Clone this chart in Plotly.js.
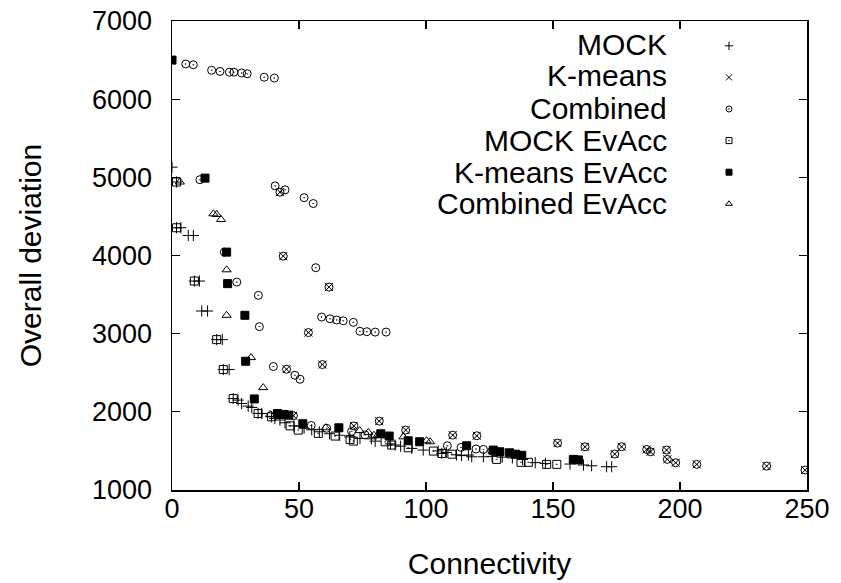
<!DOCTYPE html>
<html>
<head>
<meta charset="utf-8">
<script src="https://cdn.plot.ly/plotly-3.0.1.min.js"></script>
<style>html,body{margin:0;padding:0;background:#fff;}#chart{width:841px;height:583px;}</style>
</head>
<body>
<div id="chart"></div>
<script>
// ---- Data ----
const seriesNames = ["MOCK", "K-means", "Combined", "MOCK EvAcc", "K-means EvAcc", "Combined EvAcc"];

const mockX = [0, 1.8, 1.8, 3.5, 6.4, 8.4, 8.8, 10.8, 11.7, 14, 17.6, 19.8, 20.2, 22.5, 24.1, 26, 27.4, 30, 31.4, 33.9, 35.3, 39.2, 40.5, 42.5, 44.5, 48, 52, 55, 58, 62, 66, 70, 74, 78.5, 80, 86, 87.8, 90, 94.4, 98.9, 104.8, 106.2, 108, 112, 114, 116.7, 118, 122.6, 126, 130, 134, 138, 143, 147, 156.7, 162, 165.2, 171.1, 173.1];
const mockY = [5130, 4940, 4355, 4355, 4256, 4256, 3673, 3673, 3290, 3290, 2924, 2924, 2541, 2541, 2170, 2150, 2107, 2073, 2056, 1979, 1979, 1937, 1915, 1895, 1860, 1820, 1790, 1770, 1745, 1720, 1700, 1680, 1660, 1655, 1625, 1590, 1575, 1560, 1532, 1511, 1500, 1468, 1480, 1450, 1440, 1447, 1425, 1425, 1430, 1420, 1410, 1390, 1350, 1340, 1332, 1320, 1310, 1298, 1298];

const kmeansX = [42.5, 43.8, 45.1, 47.8, 53.7, 59.2, 61.8, 71.6, 81.6, 92, 110.5, 120, 151.8, 162.6, 174.3, 177, 186.9, 188.4, 194.7, 195, 198.3, 206.6, 234.1, 249.2];
const kmeansY = [4810, 3992, 2545, 1950, 3014, 2605, 3596, 1820, 1881, 1766, 1702, 1694, 1600, 1553, 1460, 1553, 1519, 1489, 1511, 1392, 1349, 1328, 1306, 1255];

const combinedX = [5.4, 8.4, 15.6, 18.9, 22.6, 24.4, 27.4, 29.6, 36.3, 40.3,
  11, 40.6, 42.5, 44.5, 52, 55.6, 20.6, 43.8, 25.5, 56.6, 61.8, 34, 34.4,
  58.9, 62.2, 64.8, 67.4, 71.4, 74, 76.7, 80, 84.3, 53.7, 39.9, 45.1, 48.4, 50.4, 59.2,
  47.8, 54.8, 60.9, 70.7, 71.6, 76, 81.6, 92, 108.4, 110.5, 113.8, 119.7, 120, 122.6, 125.9,
  151.8, 162.6, 174.3, 177, 186.9, 188.4, 194.7, 195, 198.3, 206.6, 234.1, 249.2];
const combinedY = [6450, 6440, 6370, 6355, 6345, 6345, 6335, 6325, 6280, 6270,
  4970, 4891, 4810, 4840, 4740, 4665, 4043, 3992, 3660, 3844, 3596, 3490, 3090,
  3213, 3190, 3175, 3165, 3145, 3030, 3025, 3020, 3020, 3014, 2580, 2545, 2468, 2417, 2605,
  1950, 1825, 1790, 1750, 1820, 1705, 1881, 1766, 1566, 1702, 1545, 1524, 1694, 1519, 1498,
  1600, 1553, 1460, 1553, 1519, 1489, 1511, 1392, 1349, 1328, 1306, 1255];

const mockEvX = [1.8, 1.8, 8.8, 17.6, 20.2, 24.1, 33.9, 39.2, 46.5, 49.7, 57.6, 64.2, 70.1, 71.4, 83.9, 86.5, 93, 102.9, 106.2, 110.2, 127.8, 137.4, 140.3, 147.5, 151.5];
const mockEvY = [4940, 4355, 3673, 2924, 2541, 2170, 1979, 1937, 1821, 1766, 1724, 1690, 1647, 1626, 1617, 1575, 1540, 1498, 1468, 1458, 1392, 1354, 1354, 1328, 1328];

const kmeansEvX = [0, 13, 21.5, 21.9, 28.7, 29, 32.4, 41.5, 44, 46, 51.5, 65.7, 82.2, 85.5, 93, 97.5, 116, 126.5, 129.1, 132.9, 135.2, 137.7, 158, 160];
const kmeansEvY = [6500, 4990, 4043, 3640, 3235, 2647, 2165, 1979, 1967, 1958, 1848, 1796, 1720, 1690, 1630, 1617, 1566, 1511, 1489, 1476, 1458, 1444, 1392, 1385];

const combinedEvX = [3.1, 16.3, 17.6, 19.3, 21.5, 21.5, 31.1, 35.9, 38.6, 60.5, 73.9, 77.3, 79.5, 81, 91.1, 100.2, 101.6];
const combinedEvY = [4940, 4533, 4525, 4461, 3817, 3235, 2694, 2310, 1967, 1796, 1760, 1737, 1700, 1700, 1680, 1630, 1617];

const xTicks = [0, 50, 100, 150, 200, 250];
const yTicks = [1000, 2000, 3000, 4000, 5000, 6000, 7000];

// ---- Styles ----
const FONT = "Liberation Sans, Arial, Helvetica, sans-serif";
const FS_TICK = 27;
const FS_TEXT = 30;
const symbols = ["cross-thin-open", "x-thin-open", "circle-open-dot", "square-open-dot", "square", "triangle-up-open"];
const xs = [mockX, kmeansX, combinedX, mockEvX, kmeansEvX, combinedEvX];
const ys = [mockY, kmeansY, combinedY, mockEvY, kmeansEvY, combinedEvY];

const traces = [];
for (let i = 0; i < 6; i++) {
  traces.push({
    type: "scatter", mode: "markers", name: seriesNames[i], showlegend: false,
    x: xs[i], y: ys[i],
    marker: {symbol: symbols[i], size: 8, color: "#000", line: {color: "#000", width: 1}}
  });
}
// legend symbol entries (label text drawn as right-aligned annotations, gnuplot style)
for (let i = 0; i < 6; i++) {
  traces.push({
    type: "scatter", mode: "markers", name: " ", showlegend: true,
    x: [null], y: [null], hoverinfo: "skip",
    marker: {symbol: symbols[i], size: 6, color: "#000", line: {color: "#000", width: 1}}
  });
}

const L = 172, R = 807, T = 21, B = 490;
const annotations = seriesNames.map((n, i) => ({
  xref: "paper", yref: "paper", x: (669 - L) / (R - L), y: (B - (44 + 32 * i)) / (B - T),
  xanchor: "right", yanchor: "middle", showarrow: false, text: n,
  font: {family: FONT, size: FS_TEXT, color: "#000"}
}));

const axisCommon = {
  showgrid: false, zeroline: false, showline: true, linecolor: "#000", linewidth: 1.5,
  mirror: "ticks", ticks: "inside", ticklen: 8, tickwidth: 1.2, tickcolor: "#000",
  tickfont: {family: FONT, size: FS_TICK, color: "#000"}
};

const layout = {
  width: 841, height: 583,
  paper_bgcolor: "#fff", plot_bgcolor: "#fff",
  margin: {l: L, r: 841 - R, t: T, b: 583 - B, pad: 0},
  font: {family: FONT, color: "#000"},
  xaxis: Object.assign({}, axisCommon, {
    range: [0, 250], tickvals: xTicks, ticktext: xTicks.map(String), ticklabelstandoff: -6,
    title: {text: "Connectivity", font: {family: FONT, size: FS_TEXT, color: "#000"}, standoff: 30}
  }),
  yaxis: Object.assign({}, axisCommon, {
    range: [1000, 7000], tickvals: yTicks, ticktext: yTicks.map(String), ticklabelstandoff: 13,
    title: {text: "Overall deviation", font: {family: FONT, size: FS_TEXT, color: "#000"}, standoff: 41}
  }),
  showlegend: true,
  legend: {
    x: (709 - L) / (R - L), y: (B - 25) / (B - T), xanchor: "left", yanchor: "top",
    bgcolor: "rgba(0,0,0,0)", borderwidth: 0, font: {family: FONT, size: 22, color: "#000"},
    tracegroupgap: 0, itemwidth: 30
  },
  annotations: annotations
};

Plotly.newPlot("chart", traces, layout, {displayModeBar: false, staticPlot: true});
</script>
</body>
</html>
